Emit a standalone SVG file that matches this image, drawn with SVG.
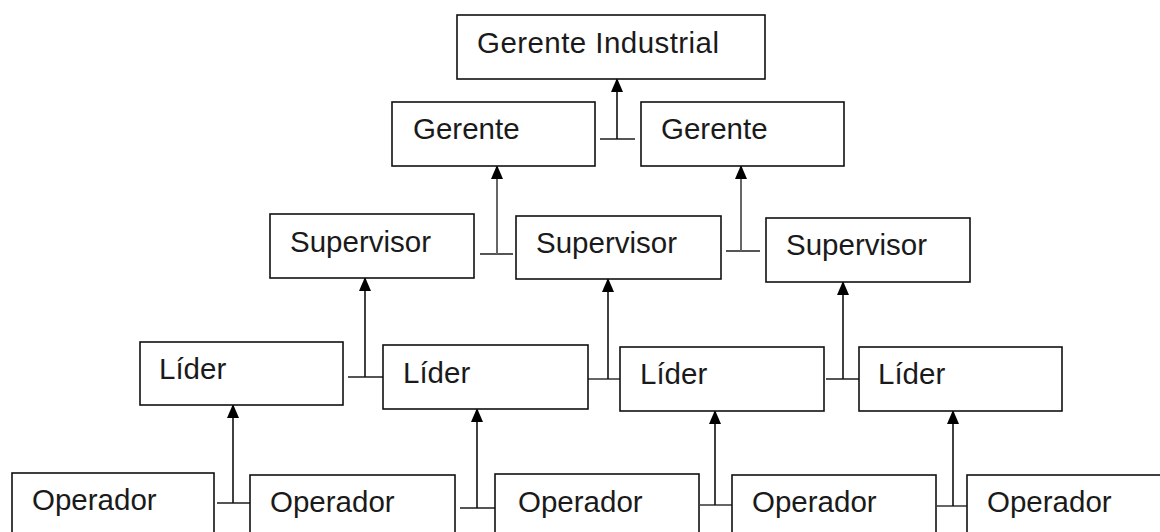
<svg xmlns="http://www.w3.org/2000/svg" width="1160" height="532" viewBox="0 0 1160 532">
<defs>
<marker id="arr" markerUnits="userSpaceOnUse" markerWidth="14" markerHeight="12" refX="13" refY="6" viewBox="0 0 14 12" orient="auto" overflow="visible">
<path d="M0,0 L14,6 L0,12 z" fill="#000"/>
</marker>
<style>
.box{fill:#fff;stroke:#111;stroke-width:1.6}
.t{font-family:"Liberation Sans",Arial,sans-serif;font-size:29.5px;fill:#1a1a1a}
.v{fill:none;stroke:#111;stroke-width:1.6}
.g{fill:none;stroke:#666;stroke-width:2}
.h{fill:none;stroke:#555;stroke-width:1.8}
</style>
</defs>
<rect width="1160" height="532" fill="#fff"/>
<g id="connectors">
<path class="h" d="M600,139 H635"/><path class="v" d="M617,139 V79" marker-end="url(#arr)"/>
<path class="h" d="M480,254 H513"/><path class="g" d="M497,254 V166" marker-end="url(#arr)"/>
<path class="h" d="M726,251 H760"/><path class="g" d="M741,251 V166" marker-end="url(#arr)"/>
<path class="h" d="M348,377 H383"/><path class="v" d="M365,377 V278" marker-end="url(#arr)"/>
<path class="h" d="M588,379 H620"/><path class="v" d="M608,379 V279" marker-end="url(#arr)"/>
<path class="h" d="M826,379 H859"/><path class="v" d="M843,379 V282" marker-end="url(#arr)"/>
<path class="h" d="M217,503 H250"/><path class="v" d="M233,503 V405" marker-end="url(#arr)"/>
<path class="h" d="M460,508 H495"/><path class="v" d="M477,508 V409" marker-end="url(#arr)"/>
<path class="h" d="M700,505 H732"/><path class="v" d="M715,505 V411" marker-end="url(#arr)"/>
<path class="h" d="M937,506 H967"/><path class="v" d="M953,506 V411" marker-end="url(#arr)"/>
</g>
<g id="gerente-industrial"><rect class="box" x="457" y="15" width="308" height="64"/><text class="t" x="477" y="53" textLength="242">Gerente Industrial</text></g>
<g id="gerente-1"><rect class="box" x="392" y="102" width="203" height="64"/><text class="t" x="413" y="139">Gerente</text></g>
<g id="gerente-2"><rect class="box" x="641" y="102" width="203" height="64"/><text class="t" x="661" y="139">Gerente</text></g>
<g id="supervisor-1"><rect class="box" x="270" y="214" width="204" height="64"/><text class="t" x="290" y="252">Supervisor</text></g>
<g id="supervisor-2"><rect class="box" x="516" y="216" width="205" height="63"/><text class="t" x="536" y="253">Supervisor</text></g>
<g id="supervisor-3"><rect class="box" x="766" y="218" width="204" height="64"/><text class="t" x="786" y="255">Supervisor</text></g>
<g id="lider-1"><rect class="box" x="140" y="342" width="203" height="63"/><text class="t" x="159" y="379">Líder</text></g>
<g id="lider-2"><rect class="box" x="383" y="345" width="205" height="64"/><text class="t" x="403" y="383">Líder</text></g>
<g id="lider-3"><rect class="box" x="620" y="347" width="204" height="64"/><text class="t" x="640" y="384">Líder</text></g>
<g id="lider-4"><rect class="box" x="859" y="347" width="203" height="64"/><text class="t" x="878" y="384">Líder</text></g>
<g id="operador-1"><rect class="box" x="12" y="473" width="202" height="70"/><text class="t" x="32" y="510">Operador</text></g>
<g id="operador-2"><rect class="box" x="250" y="475" width="205" height="70"/><text class="t" x="270" y="512">Operador</text></g>
<g id="operador-3"><rect class="box" x="495" y="474" width="204" height="70"/><text class="t" x="518" y="512">Operador</text></g>
<g id="operador-4"><rect class="box" x="732" y="475" width="204" height="70"/><text class="t" x="752" y="512">Operador</text></g>
<g id="operador-5"><rect class="box" x="967" y="475" width="210" height="70"/><text class="t" x="987" y="512">Operador</text></g>
</svg>
